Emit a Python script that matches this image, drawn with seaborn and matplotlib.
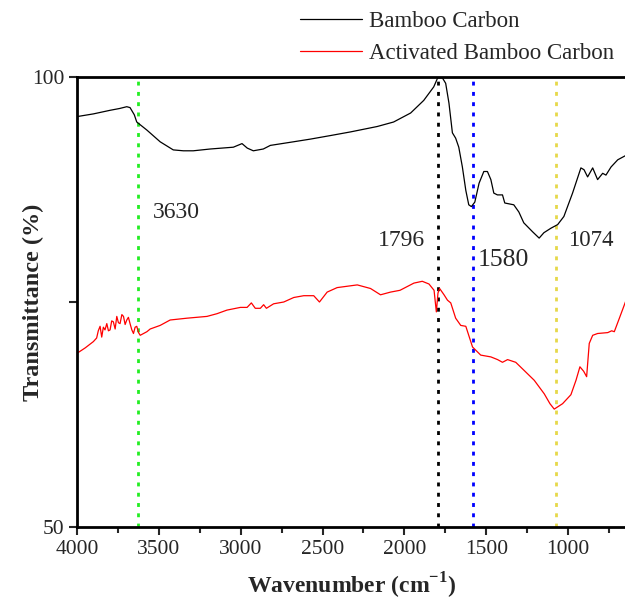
import numpy as np
import pandas as pd
import matplotlib
matplotlib.use("Agg")
import matplotlib.pyplot as plt
import seaborn as sns
from matplotlib.lines import Line2D

# ---- data ----
bc_wn = [4000, 3900, 3798, 3740, 3696, 3676, 3650, 3635, 3573, 3492, 3412, 3350, 3290,
         3186, 3045, 2992, 2960, 2923, 2862, 2819, 2678, 2574, 2450, 2329, 2166, 2066,
         1962, 1882, 1821, 1797, 1768, 1748, 1728, 1707, 1687, 1668, 1646, 1625, 1607,
         1591, 1570, 1544, 1515, 1493, 1472, 1454, 1432, 1401, 1387, 1332, 1301, 1271,
         1217, 1177, 1148, 1105, 1064, 1026, 973, 922, 903, 881, 850, 820, 789, 769,
         738, 697, 646]
bc_t = [95.6, 95.9, 96.3, 96.5, 96.7, 96.6, 95.8, 95.0, 94.1, 92.8, 91.9, 91.8, 91.8,
        92.0, 92.2, 92.6, 92.1, 91.8, 92.0, 92.4, 92.8, 93.1, 93.5, 93.9, 94.5, 95.0,
        96.0, 97.4, 98.9, 99.9, 99.9, 99.3, 97.1, 93.8, 93.2, 92.2, 90.0, 87.4, 85.8,
        85.6, 86.1, 88.2, 89.5, 89.5, 88.6, 87.1, 86.9, 86.9, 86.0, 85.8, 85.0, 83.8,
        82.8, 82.1, 82.7, 83.2, 83.6, 84.5, 87.1, 89.9, 89.7, 88.9, 89.9, 88.6, 89.3,
        89.1, 90.0, 90.8, 91.3]

abc_wn = [4000, 3950, 3900, 3880, 3870, 3859, 3849, 3839, 3829, 3818, 3808, 3798, 3788,
          3778, 3767, 3757, 3747, 3737, 3726, 3716, 3706, 3696, 3686, 3676, 3665, 3655,
          3645, 3635, 3624, 3614, 3573, 3553, 3492, 3431, 3329, 3206, 3145, 3084,
          3002, 2961, 2935, 2911, 2880, 2860, 2843, 2799, 2737, 2676, 2615, 2554, 2519,
          2472, 2411, 2288, 2207, 2146, 2085, 2027, 1942, 1891, 1850, 1819, 1805, 1795,
          1785, 1758, 1737, 1717, 1687, 1656, 1625, 1584, 1534, 1472, 1431, 1401, 1370,
          1320, 1269, 1207, 1146, 1111, 1085, 1034, 983, 952, 928, 905, 887, 871, 850,
          820, 758, 734, 718, 687, 646]
abc_t = [69.3, 69.9, 70.6, 71.0, 71.8, 72.3, 71.1, 72.2, 71.9, 72.6, 71.8, 71.9, 72.9,
         72.8, 72.0, 73.4, 72.7, 72.6, 73.6, 73.4, 72.5, 73.0, 73.3, 72.6, 71.9, 71.5,
         72.2, 72.3, 71.6, 71.3, 71.7, 72.0, 72.4, 73.0, 73.2, 73.4, 73.7, 74.1,
         74.4, 74.4, 74.9, 74.3, 74.3, 74.7, 74.3, 74.8, 75.0, 75.5, 75.7, 75.7, 75.0,
         76.1, 76.6, 76.9, 76.5, 75.8, 76.1, 76.3, 77.1, 77.3, 77.0, 76.3, 73.9, 76.0,
         76.5, 75.8, 75.2, 74.9, 73.2, 72.4, 72.3, 70.0, 69.1, 68.9, 68.6, 68.3, 68.6,
         68.3, 67.4, 66.3, 64.8, 63.7, 63.1, 63.7, 64.7, 66.3, 67.8, 67.3, 66.7, 70.4,
         71.3, 71.5, 71.6, 71.8, 71.7, 73.2, 75.2]

series_names = ["Bamboo Carbon", "Activated Bamboo Carbon"]
series_colors = ["black", "red"]

peak_wn = [3630, 1796, 1580, 1074]
peak_colors = ["#22ee22", "black", "#0000ff", "#e6d84a"]
peak_labels = ["3630", "1796", "1580", "1074"]
label_pos = [(3394, 84.9), (2017, 81.8), (1393, 79.7), (860, 81.8)]
label_sizes = [17, 17, 18.5, 16.5]

x_ticks = [4000, 3500, 3000, 2500, 2000, 1500, 1000]
y_ticks = [50, 75, 100]
y_ticklabels = ["50", "", "100"]

df = pd.concat([
    pd.DataFrame({"wn": bc_wn, "T": bc_t, "sample": series_names[0]}),
    pd.DataFrame({"wn": abc_wn, "T": abc_t, "sample": series_names[1]}),
])

sns.set_style("ticks")
plt.rcParams["font.family"] = ["Liberation Serif", "DejaVu Serif"]
plt.rcParams["mathtext.fontset"] = "custom"
plt.rcParams["mathtext.rm"] = "Liberation Serif"
plt.rcParams["mathtext.bf"] = "Liberation Serif:bold"

fig = plt.figure(figsize=(6.25, 6.0), dpi=100)
ax_w = 1 - 77 / 625 + 0.002
ax = fig.add_axes([77 / 625, 73 / 600, ax_w, 450 / 600])

sns.lineplot(data=df, x="wn", y="T", hue="sample", palette=series_colors,
             hue_order=series_names, sort=False, estimator=None, lw=0.9, ax=ax,
             legend=False)

for w, c in zip(peak_wn, peak_colors):
    ax.axvline(w, color=c, lw=2.0, linestyle=(0, (1.4, 2.3)), zorder=1)

for (xp, yp), t, s in zip(label_pos, peak_labels, label_sizes):
    ax.text(xp, yp, t, fontsize=s, ha="center", va="center")

ax.set_xlim(4000, 645)
ax.set_ylim(50, 100)
ax.set_xticks(x_ticks)
ax.set_xticks(np.arange(3750, 600, -500), minor=True)
ax.set_yticks(y_ticks)
ax.set_yticklabels(y_ticklabels)
ax.tick_params(axis="both", which="major", direction="out", length=6, width=1.5,
               labelsize=15.5, pad=3)
ax.tick_params(axis="x", which="minor", direction="out", length=4, width=1.5)
for side in ["left", "bottom", "top"]:
    ax.spines[side].set_linewidth(2)
    ax.spines[side].set_color("black")
ax.spines["right"].set_visible(False)

ax.set_xlabel(r"Wavenumber (cm$^{\mathbf{-1}}$)", fontsize=17, fontweight="bold")
ax.set_ylabel("Transmittance (%)", fontsize=17.5, fontweight="bold")
ax_px_w = ax_w * 625
ax.yaxis.set_label_coords((44 - 77) / ax_px_w, 0.5)
ax.xaxis.set_label_coords((352 - 77) / ax_px_w, -0.097)

handles = [Line2D([], [], color=c, lw=0.9) for c in series_colors]
fig.legend(handles, series_names, loc="upper left", bbox_to_anchor=(298 / 625, 0.985),
           frameon=False, fontsize=16.5, handlelength=2.7, handletextpad=0.3,
           labelspacing=0.45, borderaxespad=0.0, borderpad=0.1)

fig.savefig("out.png", dpi=100)
